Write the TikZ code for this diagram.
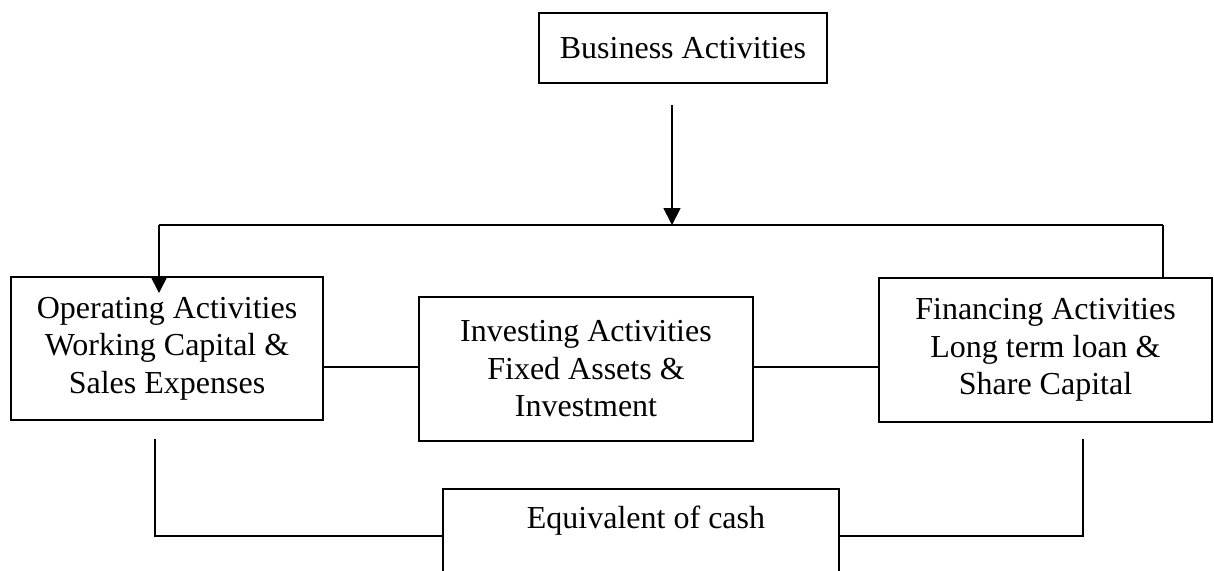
\documentclass[tikz,border=0pt]{standalone}
\usepackage{fontspec}
\setmainfont{Liberation Serif}
\usetikzlibrary{arrows.meta,calc}
\tikzstyle{box}=[rectangle,draw=black,line width=0.9pt,inner sep=0pt,align=center,anchor=center,font=\fontsize{16pt}{18.75pt}\selectfont]
\tikzstyle{annot}=[align=center,inner sep=0pt,font=\fontsize{16pt}{18.75pt}\selectfont]
\tikzstyle{conn}=[line width=0.9pt]
\tikzstyle{arr}=[conn,-{Triangle[length=8.5pt,width=8.5pt]}]

\begin{document}
\begin{tikzpicture}[x=0.5pt,y=-0.5pt]
	\useasboundingbox (0,0) rectangle (1214,570);
	\clip (0,0) rectangle (1214,570);

	\node[box, minimum width=144pt, minimum height=35pt](bizact) at (683,48){Business Activities};
	\node[box, minimum width=156pt, minimum height=71.5pt](opact) at (167,348.5){Operating Activities\\Working Capital \&\\Sales Expenses};
	\node[box, minimum width=167pt, minimum height=72pt](invact) at (586,369){Investing Activities\\Fixed Assets \&\\Investment};
	\node[box, minimum width=166.5pt, minimum height=72pt](finact) at (1045.5,350){Financing Activities\\Long term loan \&\\Share Capital};
	\node[annot](eqcash) at (646,521){Equivalent of cash};

	\coordinate (start) at (672,105);
	\coordinate (busL) at (159,225);
	\coordinate (busR) at (1163,225);
	\coordinate (optip) at (159,293);
	\coordinate (mid) at (0,367);
	\coordinate (lowL) at (155,439);
	\coordinate (lowR) at (1083,439);
	\coordinate (bot) at (0,536);
	\coordinate (eqL) at (443,489);
	\coordinate (eqR) at (839,620);

	% bus from business activities
	\draw[arr] (start) -- (start |- busL);
	\draw[conn] (busL) -- (busR);
	\draw[arr] (busL) -- (optip);
	\draw[conn] (busR) -- (busR |- finact.north);

	% links between the three activities
	\draw[conn] (opact.east |- mid) -- (invact.west |- mid);
	\draw[conn] (invact.east |- mid) -- (finact.west |- mid);

	% cash box, open at the bottom
	\draw[conn] (eqL) rectangle (eqR);
	\draw[conn] (lowL) |- (eqL |- bot);
	\draw[conn] (lowR) |- (eqR |- bot);

\end{tikzpicture}
\end{document}
